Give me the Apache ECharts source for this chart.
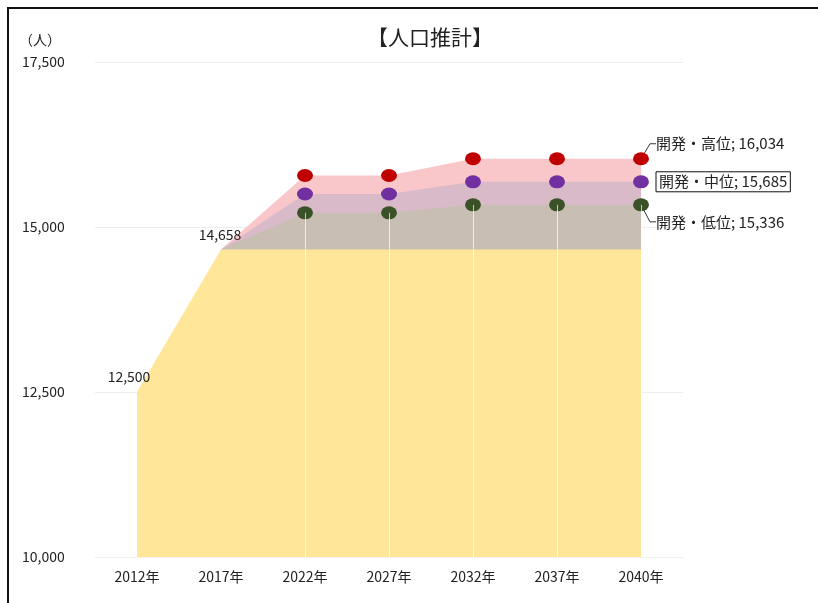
<!DOCTYPE html>
<html>
<head>
<meta charset="utf-8">
<script src="https://cdn.jsdelivr.net/npm/echarts@6/dist/echarts.min.js"></script>
<style>
  html, body { margin: 0; padding: 0; background: #fff; }
  #chart { width: 818px; height: 603px; }
</style>
</head>
<body>
<div id="chart"></div>
<script>
// 人口推計データ
const years = ["2012年", "2017年", "2022年", "2027年", "2032年", "2037年", "2040年"];
const baseValues = [12500, 14658, 14658, 14658, 14658, 14658, 14658];
const highValues = [null, 14658, 15780, 15780, 16034, 16034, 16034];
const midValues = [null, 14658, 15500, 15500, 15685, 15685, 15685];
const lowValues = [null, 14658, 15215, 15215, 15336, 15336, 15336];
const seriesNames = ["開発・高位", "開発・中位", "開発・低位"];
const yTicks = { min: 10000, max: 17500, interval: 2500 };

const FONT = "'Noto Sans CJK JP', 'Noto Sans', sans-serif";

function comma(v) {
  return String(v).replace(/\B(?=(\d{3})+(?!\d))/g, ",");
}

const lastIdx = years.length - 1;

function scenario(name, values, areaColor, dotColor, dy, boxed) {
  // 2017年はマーカーなし、2040年だけラベル
  const data = values.map((v, i) => {
    if (i === 1) return { value: v, symbol: "none" };
    if (i === lastIdx) {
      return {
        value: v,
        label: {
          show: true,
          position: "right",
          distance: 7,
          fontFamily: FONT,
          fontSize: 15,
          color: "#222",
          formatter: name + "; " + comma(v),
          borderColor: boxed ? "#111" : "transparent",
          borderWidth: boxed ? 1 : 0,
          padding: boxed ? [3, 3, 2, 3] : 0,
        },
      };
    }
    return v;
  });
  return {
    name: name,
    type: "line",
    data: data,
    symbol: "circle",
    symbolSize: [16, 13],
    itemStyle: { color: dotColor },
    lineStyle: { width: 0 },
    areaStyle: { color: areaColor, opacity: 1, origin: "start" },
    label: { show: false },
    labelLayout: (p) => (p.dataIndex === lastIdx ? { dy: dy } : {}),
    labelLine: {
      show: dy !== 0,
      length2: 6,
      lineStyle: { color: "#333", width: 1 },
    },
    emphasis: { disabled: true },
    animation: false,
  };
}

const chart = echarts.init(document.getElementById("chart"));

const option = {
  backgroundColor: "#fff",
  animation: false,
  title: [
    {
      text: "【人口推計】",
      left: 425,
      top: 22,
      textAlign: "center",
      textStyle: { fontFamily: FONT, fontSize: 21, fontWeight: "normal", color: "#222" },
    },
    {
      text: "（人）",
      left: 14,
      top: 28,
      textStyle: { fontFamily: FONT, fontSize: 14, fontWeight: "normal", color: "#222" },
    },
  ],
  graphic: [
    {
      type: "rect",
      shape: { x: 8, y: 8, width: 830, height: 620 },
      style: { fill: "none", stroke: "#111", lineWidth: 2 },
      silent: true,
    },
  ],
  grid: { left: 95, right: 135, top: 62, bottom: 46 },
  xAxis: {
    type: "category",
    data: years,
    boundaryGap: true,
    axisLine: { show: true, lineStyle: { color: "#f0f0f0" } },
    axisTick: { show: false },
    axisLabel: { fontFamily: FONT, fontSize: 14, color: "#222", margin: 13 },
  },
  yAxis: {
    type: "value",
    min: yTicks.min,
    max: yTicks.max,
    interval: yTicks.interval,
    axisLine: { show: false },
    axisTick: { show: false },
    splitLine: { lineStyle: { color: "#eeeeee" } },
    axisLabel: {
      fontFamily: FONT,
      fontSize: 14,
      color: "#222",
      align: "left",
      margin: 73,
      formatter: (v) => comma(v),
    },
  },
  series: [
    scenario(seriesNames[0], highValues, "#f9c7c9", "#c00000", -15, false),
    scenario(seriesNames[1], midValues, "#d9bac9", "#7030a0", 0, true),
    scenario(seriesNames[2], lowValues, "#c9beb3", "#3b5228", 17, false),
    {
      name: "実績",
      type: "line",
      data: baseValues.map((v, i) =>
        i === 1 ? { value: v, label: { offset: [-1, 0] } } : v
      ),
      symbol: "circle",
      symbolSize: 0,
      showAllSymbol: true,
      itemStyle: { color: "transparent" },
      lineStyle: { width: 0 },
      areaStyle: { color: "#ffe699", opacity: 1, origin: "start" },
      label: {
        show: true,
        position: "top",
        distance: 8,
        offset: [-8, 0],
        fontFamily: FONT,
        fontSize: 14,
        color: "#222",
        formatter: (p) => (p.dataIndex <= 1 ? comma(p.value) : ""),
      },
      markLine: {
        silent: true,
        symbol: "none",
        label: { show: false },
        lineStyle: { color: "rgba(255,255,255,0.7)", width: 1, type: "solid" },
        data: years.slice(2).map((y, i) => [
          { coord: [y, lowValues[i + 2]] },
          { coord: [y, yTicks.min] },
        ]),
      },
      emphasis: { disabled: true },
      animation: false,
    },
  ],
};

chart.setOption(option);
</script>
</body>
</html>
